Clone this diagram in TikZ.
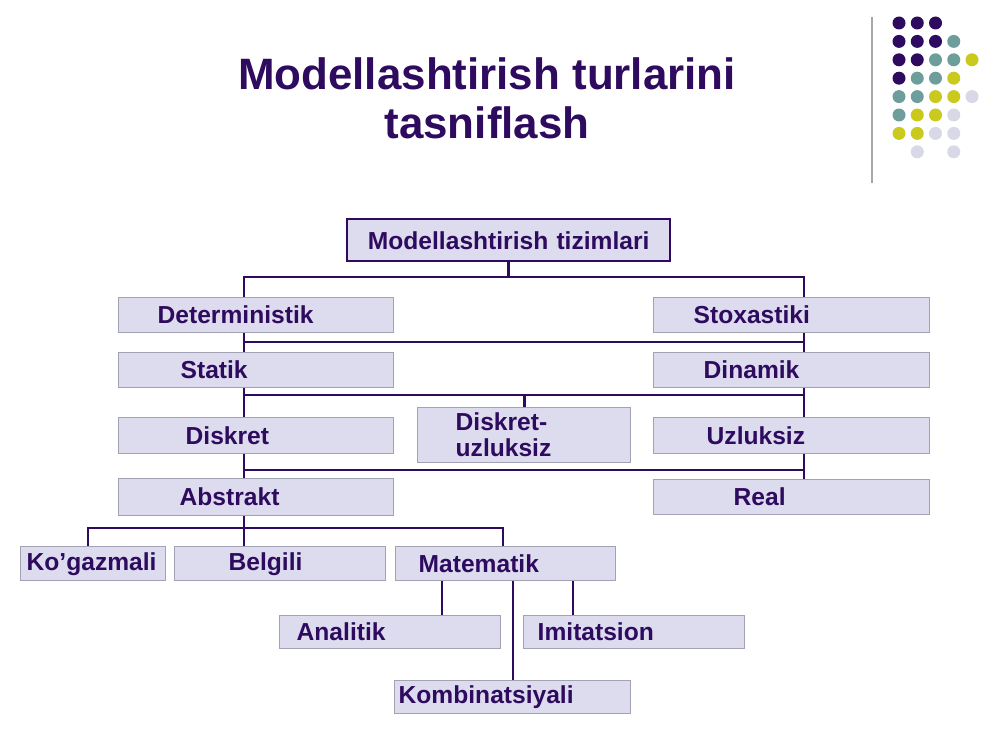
\documentclass[tikz,border=0pt]{standalone}
\usepackage{fontspec}
\setmainfont{Liberation Sans}
\usetikzlibrary{positioning,calc}
\definecolor{ink}{HTML}{2E0B5E}
\definecolor{cell}{HTML}{DCDCEE}
\definecolor{edge}{HTML}{A2A2B4}
\definecolor{dotink}{HTML}{2E0B5E}
\definecolor{dotteal}{HTML}{6E9E9C}
\definecolor{dotlime}{HTML}{C9C91E}
\definecolor{dotlilac}{HTML}{D8D8E6}
\definecolor{rulegrey}{HTML}{A8A8A8}

\begin{document}
\begin{tikzpicture}[
  x=0.02cm, y=-0.02cm,
  box/.style={draw=edge, fill=cell, line width=0.8pt, text=ink, anchor=north west,
    inner sep=0pt, minimum height=7mm, align=left,
    font=\fontsize{14}{14.8}\selectfont\bfseries},
  rootbox/.style={box, draw=ink, line width=1.4pt, align=center},
  wire/.style={draw=ink, line width=1.5pt},
  heading/.style={text=ink, align=center, font=\fontsize{25}{28}\selectfont\bfseries}]

\path[use as bounding box, fill=white] (0,0) rectangle (1000,750);

% heading and corner decoration
\node[heading] (title) at (487,98) {Modellashtirish turlarini\\tasniflash};
\draw[rulegrey, line width=1pt] (872,17) -- (872,183);
\foreach \c/\r/\col in {0/0/dotink,1/0/dotink,2/0/dotink,
    0/1/dotink,1/1/dotink,2/1/dotink,3/1/dotteal,
    0/2/dotink,1/2/dotink,2/2/dotteal,3/2/dotteal,4/2/dotlime,
    0/3/dotink,1/3/dotteal,2/3/dotteal,3/3/dotlime,
    0/4/dotteal,1/4/dotteal,2/4/dotlime,3/4/dotlime,4/4/dotlilac,
    0/5/dotteal,1/5/dotlime,2/5/dotlime,3/5/dotlilac,
    0/6/dotlime,1/6/dotlime,2/6/dotlilac,3/6/dotlilac,
    1/7/dotlilac,3/7/dotlilac}
  \fill[\col] ({899+18.25*\c},{23+18.4*\r}) circle[radius=1.3mm];

% root
\node[rootbox, text width=64.6mm, minimum height=8.4mm] (root) at (346,218) {Modellashtirish tizimlari};

% left column
\node[box, text width=55mm] (det)  at (118,297) {\hspace*{7.8mm}Deterministik};
\node[box, text width=55mm] (stat) at (118,352) {\hspace*{12.4mm}Statik};
\node[box, text width=55mm, minimum height=7.2mm] (disk) at (118,417) {\hspace*{13.4mm}Diskret};
\node[box, text width=55mm, minimum height=7.4mm] (abs)  at (118,478) {\hspace*{12.2mm}Abstrakt};

% middle
\node[box, text width=42.6mm, minimum height=11mm] (du) at (417,407)
  {\hspace*{7.6mm}Diskret-\\\hspace*{7.6mm}uzluksiz};

% right column
\node[box, text width=55.2mm] (sto)  at (653,297) {\hspace*{8mm}Stoxastiki};
\node[box, text width=55.2mm] (din)  at (653,352) {\hspace*{10mm}Dinamik};
\node[box, text width=55.2mm, minimum height=7.2mm] (uzl)  at (653,417) {\hspace*{10.6mm}Uzluksiz};
\node[box, text width=55.2mm] (real) at (653,479) {\hspace*{16mm}Real};

% kinds of abstract models
\node[box, text width=29mm, minimum height=6.8mm] (kog) at (20,546)  {\hspace*{1.2mm}Ko’gazmali};
\node[box, text width=42.2mm, minimum height=6.8mm] (bel) at (174,546) {\hspace*{10.8mm}Belgili};
\node[box, text width=44mm, minimum height=6.8mm] (mat) at (395,546) {\hspace*{4.6mm}Matematik};

% kinds of mathematical models
\node[box, text width=44.2mm, minimum height=6.6mm] (ana)  at (279,615) {\hspace*{3.4mm}Analitik};
\node[box, text width=44.2mm, minimum height=6.6mm] (imi)  at (523,615) {\hspace*{2.8mm}Imitatsion};
\node[box, text width=47.2mm, minimum height=6.6mm] (komb) at (394,680) {\hspace*{0.8mm}Kombinatsiyali};

% bus lines
\coordinate (b1) at (244,277); \coordinate (b1r) at (804,277);
\coordinate (b2) at (244,342); \coordinate (b2r) at (804,342);
\coordinate (b3) at (244,395); \coordinate (b3r) at (804,395);
\coordinate (b4) at (244,470); \coordinate (b4r) at (804,470);
\coordinate (b5l) at (88,528); \coordinate (b5) at (244,528); \coordinate (b5r) at (503,528);
\coordinate (ka) at (442,0); \coordinate (kk) at (513,0); \coordinate (ki) at (573,0);

\draw[wire] (root.south) -- (root.south |- b1);
\draw[wire] (det.north -| b1) -- (b1) -- (b1r) -- (sto.north -| b1r);
\draw[wire] (det.south -| b2) -- (stat.north -| b2);
\draw[wire] (sto.south -| b2r) -- (din.north -| b2r);
\draw[wire] (b2) -- (b2r);
\draw[wire] (stat.south -| b3) -- (disk.north -| b3);
\draw[wire] (din.south -| b3r) -- (uzl.north -| b3r);
\draw[wire] (b3) -- (b3r);
\draw[wire] (du.north) -- (du.north |- b3);
\draw[wire] (disk.south -| b4) -- (abs.north -| b4);
\draw[wire] (uzl.south -| b4r) -- (real.north -| b4r);
\draw[wire] (b4) -- (b4r);
\draw[wire] (abs.south -| b5) -- (bel.north -| b5);
\draw[wire] (kog.north -| b5l) -- (b5l) -- (b5r) -- (mat.north -| b5r);
\draw[wire] (mat.south -| ka) -- (ana.north -| ka);
\draw[wire] (mat.south -| kk) -- (komb.north -| kk);
\draw[wire] (mat.south -| ki) -- (imi.north -| ki);
\end{tikzpicture}
\end{document}
